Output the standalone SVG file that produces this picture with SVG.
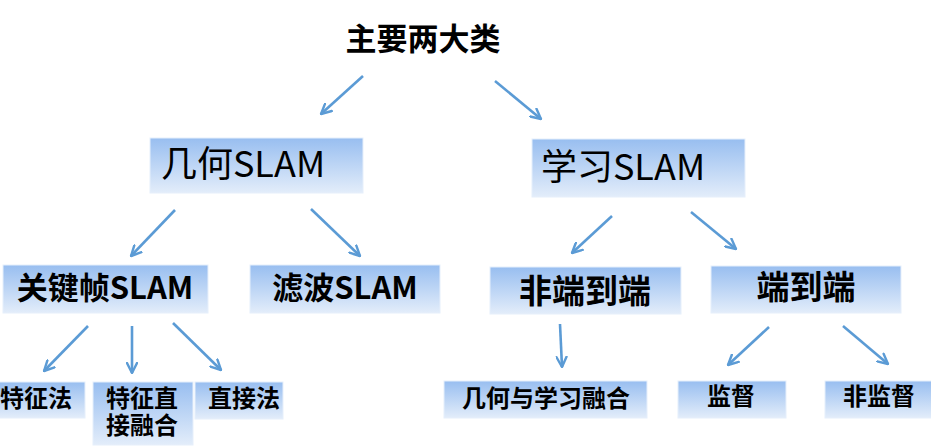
<svg xmlns="http://www.w3.org/2000/svg" width="931" height="447" viewBox="0 0 931 447">
<style>
.box{fill:url(#g);stroke:#e6effb;stroke-width:1}
.t{font-family:"Noto Sans CJK SC","Noto Sans",sans-serif;fill:#000;text-anchor:middle}
.b{font-weight:bold}
.c{stroke:#5b9bd5;stroke-width:2.6;fill:none;marker-end:url(#a)}
</style>
<defs>
<linearGradient id="g" x1="0" y1="0" x2="0" y2="1">
<stop offset="0" stop-color="#98bef0"/>
<stop offset="1" stop-color="#e3edfa"/>
</linearGradient>
<marker id="a" viewBox="0 0 12 12" refX="11" refY="6" markerWidth="12" markerHeight="12" markerUnits="userSpaceOnUse" orient="auto">
<path d="M1,1 L11,6 L1,11" fill="none" stroke="#5b9bd5" stroke-width="2.4" stroke-linecap="round" stroke-linejoin="round"/>
</marker>
</defs>
<g id="root"><text class="t b" x="423" y="50" font-size="31">主要两大类</text></g>
<g id="geo"><rect class="box" x="150" y="138" width="213" height="55"/><text class="t" x="243" y="177" font-size="36">几何SLAM</text></g>
<g id="learn"><rect class="box" x="532" y="139" width="213" height="58"/><text class="t" x="623" y="180" font-size="36">学习SLAM</text></g>
<g id="kf"><rect class="box" x="3" y="265" width="205" height="48"/><text class="t b" x="105" y="299" font-size="31">关键帧SLAM</text></g>
<g id="filter"><rect class="box" x="250" y="265" width="190" height="48"/><text class="t b" x="345" y="299" font-size="31">滤波SLAM</text></g>
<g id="nonE2E"><rect class="box" x="490" y="267" width="191" height="47"/><text class="t b" x="585" y="303" font-size="33">非端到端</text></g>
<g id="e2e"><rect class="box" x="711" y="266" width="190" height="47"/><text class="t b" x="806" y="299" font-size="33">端到端</text></g>
<g id="feat"><rect class="box" x="-1" y="382" width="86" height="36"/><text class="t b" x="36" y="407" font-size="24">特征法</text></g>
<g id="fused"><rect class="box" x="93" y="382" width="100" height="63"/><text class="t b" font-size="24"><tspan x="142" y="407">特征直</tspan><tspan x="142" y="434">接融合</tspan></text></g>
<g id="direct"><rect class="box" x="195" y="382" width="88" height="37"/><text class="t b" x="244" y="407" font-size="24">直接法</text></g>
<g id="geolearn"><rect class="box" x="444" y="381" width="203" height="37"/><text class="t b" x="546" y="407" font-size="24">几何与学习融合</text></g>
<g id="sup"><rect class="box" x="678" y="381" width="108" height="37"/><text class="t b" x="731" y="405" font-size="24">监督</text></g>
<g id="unsup"><rect class="box" x="825" y="381" width="107" height="37"/><text class="t b" x="879" y="405" font-size="24">非监督</text></g>
<g id="connectors">
<line class="c" x1="363" y1="76" x2="321" y2="114"/>
<line class="c" x1="495" y1="81" x2="541" y2="119"/>
<line class="c" x1="175" y1="210" x2="131" y2="256"/>
<line class="c" x1="311" y1="209" x2="360" y2="256"/>
<line class="c" x1="612" y1="216" x2="572" y2="253"/>
<line class="c" x1="691" y1="212" x2="736" y2="249"/>
<line class="c" x1="88" y1="326" x2="44" y2="371"/>
<line class="c" x1="132" y1="326" x2="132" y2="373"/>
<line class="c" x1="173" y1="323" x2="221" y2="370"/>
<line class="c" x1="560" y1="324" x2="562" y2="367"/>
<line class="c" x1="769" y1="327" x2="728" y2="365"/>
<line class="c" x1="843" y1="326" x2="888" y2="364"/>
</g>
</svg>
